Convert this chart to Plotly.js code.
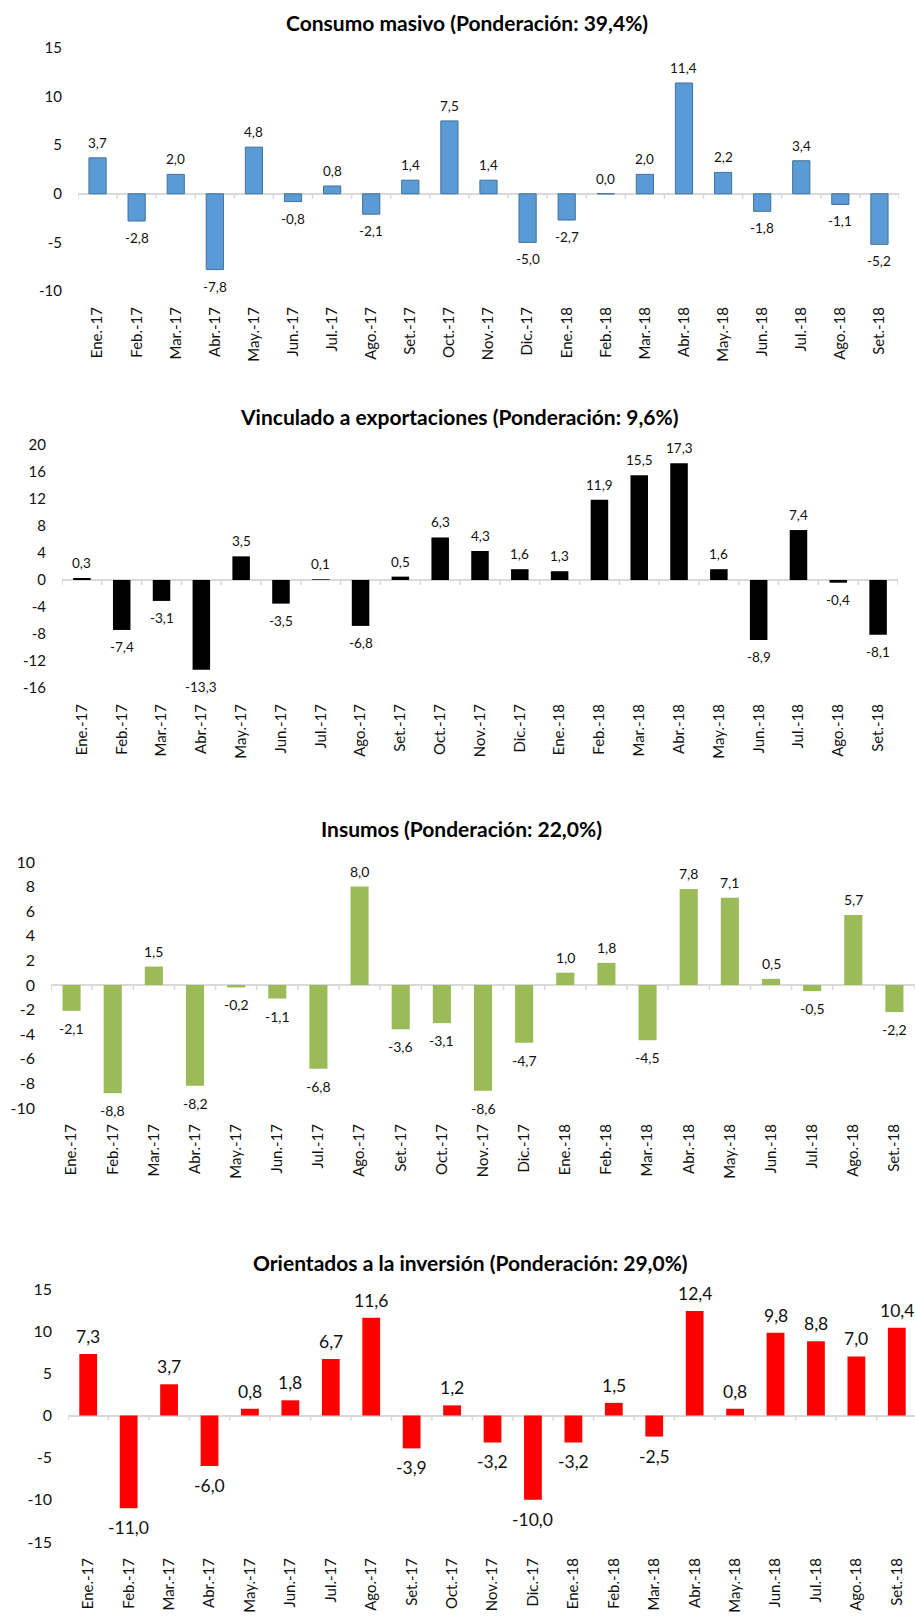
<!DOCTYPE html>
<html><head><meta charset="utf-8">
<script src="https://cdn.plot.ly/plotly-3.0.1.min.js"></script>
<style>html,body{margin:0;padding:0;background:#fff;}#chart{width:915px;height:1617px;}</style>
</head><body><div id="chart"></div>
<script>
const categories = ["Ene.-17","Feb.-17","Mar.-17","Abr.-17","May.-17","Jun.-17","Jul.-17","Ago.-17","Set.-17","Oct.-17","Nov.-17","Dic.-17","Ene.-18","Feb.-18","Mar.-18","Abr.-18","May.-18","Jun.-18","Jul.-18","Ago.-18","Set.-18"];
const consumoMasivo = [3.7,-2.8,2.0,-7.8,4.8,-0.8,0.8,-2.1,1.4,7.5,1.4,-5.0,-2.7,0.0,2.0,11.4,2.2,-1.8,3.4,-1.1,-5.2];
const exportaciones = [0.3,-7.4,-3.1,-13.3,3.5,-3.5,0.1,-6.8,0.5,6.3,4.3,1.6,1.3,11.9,15.5,17.3,1.6,-8.9,7.4,-0.4,-8.1];
const insumos = [-2.1,-8.8,1.5,-8.2,-0.2,-1.1,-6.8,8.0,-3.6,-3.1,-8.6,-4.7,1.0,1.8,-4.5,7.8,7.1,0.5,-0.5,5.7,-2.2];
const inversion = [7.3,-11.0,3.7,-6.0,0.8,1.8,6.7,11.6,-3.9,1.2,-3.2,-10.0,-3.2,1.5,-2.5,12.4,0.8,9.8,8.8,7.0,10.4];
const titles = ["Consumo masivo (Ponderación: 39,4%)","Vinculado a exportaciones (Ponderación: 9,6%)","Insumos (Ponderación: 22,0%)","Orientados a la inversión (Ponderación: 29,0%)"];
const yTicks1 = [-10,-5,0,5,10,15];
const yTicks2 = [-16,-12,-8,-4,0,4,8,12,16,20];
const yTicks3 = [-10,-8,-6,-4,-2,0,2,4,6,8,10];
const yTicks4 = [-15,-10,-5,0,5,10,15];

const W = 915, H = 1617;
const FONT = "Lato, 'Liberation Sans', sans-serif";
const panels = [
  {data: consumoMasivo, ticks: yTicks1, color:'#5B9BD5', line:'#41719C', lw:1, left:78, right:899, top:48, bottom:291, xr:[-0.5,20.5], titleX:467, titleY:22, ytf:15, lf:13.5},
  {data: exportaciones, ticks: yTicks2, color:'#000000', line:'#000000', lw:0, left:62, right:898, top:445, bottom:688, xr:[-0.5,20.5], titleX:459, titleY:417, ytf:15, lf:13.5},
  {data: insumos, ticks: yTicks3, color:'#9BBB59', line:'#9BBB59', lw:0, left:51, right:915, top:862, bottom:1108, xr:[-0.5,20.5], titleX:461, titleY:828, ytf:16, lf:14},
  {data: inversion, ticks: yTicks4, color:'#FF0000', line:'#FF0000', lw:0, left:68, right:915, top:1289, bottom:1542, xr:[-0.5,20.45], titleX:470, titleY:1262, ytf:16, lf:17.5}
];
const fmt = v => v.toFixed(1).replace('.', ',');
const fmtTick = v => String(v);

const traces = [];
const layout = {
  width: W, height: H, margin:{l:0,r:0,t:0,b:0},
  paper_bgcolor:'#ffffff', plot_bgcolor:'rgba(0,0,0,0)',
  showlegend:false, font:{family:FONT, color:'#000'},
  annotations:[], shapes:[]
};
panels.forEach((p, k) => {
  const n = k + 1;
  const xa = n === 1 ? 'x' : 'x' + n, ya = n === 1 ? 'y' : 'y' + n;
  const xk = n === 1 ? 'xaxis' : 'xaxis' + n, yk = n === 1 ? 'yaxis' : 'yaxis' + n;
  traces.push({
    type:'bar', x: categories, y: p.data, xaxis: xa, yaxis: ya, width: 0.44,
    marker:{color:p.color, line:{color:p.line, width:p.lw}}, cliponaxis:false, hoverinfo:'x+y'
  });
  const ymin = p.ticks[0], ymax = p.ticks[p.ticks.length-1];
  layout[xk] = {
    domain:[p.left/W, p.right/W], anchor: ya, type:'category', range:p.xr,
    showgrid:false, zeroline:false, showline:false, ticks:'', tickangle:-90,
    tickfont:{family:FONT, size:15, color:'#111'}, ticklabelstandoff:12, fixedrange:true
  };
  layout[yk] = {
    domain:[1 - p.bottom/H, 1 - p.top/H], anchor: xa, range:[ymin, ymax],
    tickvals:p.ticks, ticktext:p.ticks.map(fmtTick), showgrid:false,
    zeroline:true, zerolinecolor:'#D9D9D9', zerolinewidth:2, showline:false, ticks:'',
    tickfont:{family:FONT, size:p.ytf, color:'#111'}, ticklabelstandoff:15, fixedrange:true
  };
  // category boundary tick marks on the zero line
  for (let i = 0; i <= categories.length; i++) {
    layout.shapes.push({type:'line', xref:xa, yref:ya, x0:i-0.5, x1:i-0.5,
      ysizemode:'pixel', yanchor:0, y0:0, y1:-5, line:{color:'#D9D9D9', width:1.5}});
  }
  // data labels
  p.data.forEach((v, i) => {
    const neg = v < 0;
    layout.annotations.push({xref:xa, yref:ya, x:categories[i], y:v, text:fmt(v), showarrow:false,
      yanchor: neg ? 'top' : 'bottom', yshift: neg ? -7 : 5,
      font:{family:FONT, size:p.lf, color:'#111'}});
  });
  layout.annotations.push({xref:'paper', yref:'paper', x:p.titleX/W, y:1 - p.titleY/H, xanchor:'center', yanchor:'middle',
    text:'<b>' + titles[k] + '</b>', showarrow:false, font:{family:FONT, size:21, color:'#000'}});
});
Plotly.newPlot('chart', traces, layout, {displayModeBar:false, staticPlot:true});
</script></body></html>
